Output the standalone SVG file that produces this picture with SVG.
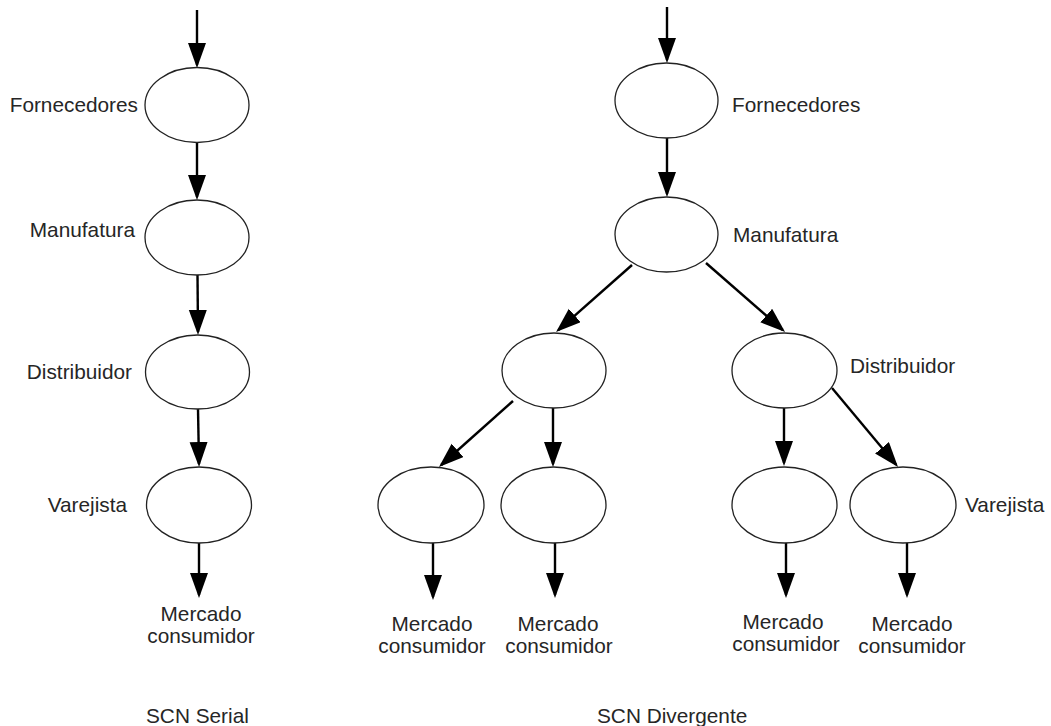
<svg xmlns="http://www.w3.org/2000/svg" width="1051" height="726" viewBox="0 0 1051 726">
  <style>
    .node { fill: #ffffff; stroke: #222222; stroke-width: 1.3; }
    .edge { fill: none; stroke: #000000; stroke-width: 2.4; marker-end: url(#arrow); }
    .lbl { font-family: "Liberation Sans", Arial, sans-serif; font-size: 20.8px; fill: #262626; }
    .end { text-anchor: end; }
    .mid { text-anchor: middle; }
  </style>
  <defs>
    <marker id="arrow" markerUnits="userSpaceOnUse" markerWidth="26" markerHeight="20" refX="22" refY="9" orient="auto">
      <path d="M0,0 L25,9 L0,18 Z" fill="#000000"/>
    </marker>
  </defs>
  <rect width="1051" height="726" fill="#ffffff"/>

  <!-- connectors -->
  <g id="connectors">
    <!-- serial chain -->
    <line class="edge" x1="197" y1="10" x2="197" y2="65"/>
    <line class="edge" x1="197" y1="143" x2="197" y2="197"/>
    <line class="edge" x1="197.5" y1="275" x2="198" y2="332"/>
    <line class="edge" x1="198" y1="409" x2="199" y2="464"/>
    <line class="edge" x1="199" y1="543" x2="199" y2="595"/>
    <!-- divergent tree -->
    <line class="edge" x1="667" y1="7" x2="667" y2="60"/>
    <line class="edge" x1="667" y1="138" x2="667" y2="194"/>
    <line class="edge" x1="632" y1="265" x2="558.3" y2="330.1"/>
    <line class="edge" x1="706" y1="263" x2="782.8" y2="330"/>
    <line class="edge" x1="513" y1="401" x2="441.2" y2="465"/>
    <line class="edge" x1="553" y1="408" x2="553" y2="464"/>
    <line class="edge" x1="784" y1="408" x2="784" y2="463"/>
    <line class="edge" x1="832" y1="388" x2="896.1" y2="464.7"/>
    <line class="edge" x1="433" y1="543" x2="433" y2="597"/>
    <line class="edge" x1="555" y1="543" x2="555" y2="595"/>
    <line class="edge" x1="786" y1="543" x2="786" y2="595"/>
    <line class="edge" x1="907" y1="543" x2="907" y2="595"/>
  </g>

  <!-- serial chain nodes -->
  <g id="s-fornecedores">
    <ellipse class="node" cx="197" cy="105" rx="52" ry="37.5"/>
    <text class="lbl end" x="138" y="112">Fornecedores</text>
  </g>
  <g id="s-manufatura">
    <ellipse class="node" cx="197" cy="237.5" rx="52" ry="37.5"/>
    <text class="lbl end" x="135" y="237">Manufatura</text>
  </g>
  <g id="s-distribuidor">
    <ellipse class="node" cx="197.5" cy="372" rx="52" ry="37"/>
    <text class="lbl end" x="132" y="379">Distribuidor</text>
  </g>
  <g id="s-varejista">
    <ellipse class="node" cx="199" cy="505" rx="52.5" ry="38"/>
    <text class="lbl end" x="127" y="512">Varejista</text>
  </g>
  <g id="s-mercado">
    <text class="lbl mid" x="201" y="621">Mercado</text>
    <text class="lbl mid" x="201" y="643">consumidor</text>
  </g>
  <g id="s-title">
    <text class="lbl" x="146" y="723">SCN Serial</text>
  </g>

  <!-- divergent tree nodes -->
  <g id="d-fornecedores">
    <ellipse class="node" cx="666.5" cy="100.5" rx="51.5" ry="37.5"/>
    <text class="lbl" x="732" y="112">Fornecedores</text>
  </g>
  <g id="d-manufatura">
    <ellipse class="node" cx="666.5" cy="234.5" rx="51.5" ry="37.5"/>
    <text class="lbl" x="733" y="242">Manufatura</text>
  </g>
  <g id="d-mid-left">
    <ellipse class="node" cx="554" cy="370.5" rx="52" ry="37.5"/>
  </g>
  <g id="d-distribuidor">
    <ellipse class="node" cx="784.5" cy="370.5" rx="52.5" ry="37.5"/>
    <text class="lbl" x="850" y="373">Distribuidor</text>
  </g>
  <g id="d-leaf-1">
    <ellipse class="node" cx="431" cy="505" rx="53" ry="38"/>
  </g>
  <g id="d-leaf-2">
    <ellipse class="node" cx="553.5" cy="505" rx="52.5" ry="38"/>
  </g>
  <g id="d-leaf-3">
    <ellipse class="node" cx="784.5" cy="505" rx="52.5" ry="38"/>
  </g>
  <g id="d-varejista">
    <ellipse class="node" cx="903" cy="505" rx="53" ry="38"/>
    <text class="lbl" x="965" y="512">Varejista</text>
  </g>
  <g id="d-mercado-1">
    <text class="lbl mid" x="432" y="631">Mercado</text>
    <text class="lbl mid" x="432" y="653">consumidor</text>
  </g>
  <g id="d-mercado-2">
    <text class="lbl mid" x="558" y="631">Mercado</text>
    <text class="lbl mid" x="559" y="653">consumidor</text>
  </g>
  <g id="d-mercado-3">
    <text class="lbl mid" x="783" y="629">Mercado</text>
    <text class="lbl mid" x="786" y="651">consumidor</text>
  </g>
  <g id="d-mercado-4">
    <text class="lbl mid" x="912" y="631">Mercado</text>
    <text class="lbl mid" x="912" y="653">consumidor</text>
  </g>
  <g id="d-title">
    <text class="lbl" x="597" y="723">SCN Divergente</text>
  </g>
</svg>
